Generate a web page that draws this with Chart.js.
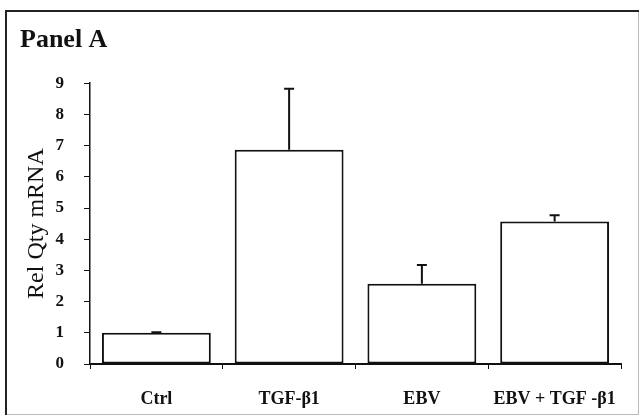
<!DOCTYPE html>
<html lang="en">
<head>
<meta charset="utf-8">
<title>Panel A</title>
<script src="https://cdn.jsdelivr.net/npm/chart.js"></script>
<style>
  body{margin:0;padding:0;background:#fff}
  #wrap{width:641px;height:419px}
</style>
</head>
<body>
<div id="wrap"><canvas id="chart" width="641" height="419"></canvas></div>

<script>
const categories = ['Ctrl', 'TGF-β1', 'EBV', 'EBV + TGF -β1'];
const relQty = [1.0, 6.87, 2.57, 4.57];
const errTop = [1.02, 8.82, 3.17, 4.77];
const yTicks = [0, 1, 2, 3, 4, 5, 6, 7, 8, 9];

const serif = "'Liberation Serif', 'Times New Roman', serif";

// upper whiskers only
const errorBars = {
  id: 'errorBars',
  afterDatasetsDraw(chart) {
    const ctx = chart.ctx;
    const meta = chart.getDatasetMeta(0);
    const y = chart.scales.y;
    ctx.save();
    ctx.strokeStyle = '#111';
    ctx.lineWidth = 2;
    meta.data.forEach((bar, i) => {
      const top = y.getPixelForValue(errTop[i]);
      ctx.beginPath();
      ctx.moveTo(bar.x, bar.y);
      ctx.lineTo(bar.x, top);
      ctx.moveTo(bar.x - 5, top);
      ctx.lineTo(bar.x + 5, top);
      ctx.stroke();
    });
    ctx.restore();
  }
};

const frame = {
  id: 'frame',
  beforeDraw(chart) {
    const ctx = chart.ctx;
    ctx.save();
    ctx.fillStyle = '#fff';
    ctx.fillRect(0, 0, chart.width, chart.height);
    ctx.strokeStyle = '#bbb';
    ctx.lineWidth = 1;
    ctx.strokeRect(6.5, 11.5, 632, 403);
    ctx.strokeStyle = '#222';
    ctx.lineWidth = 2;
    ctx.beginPath();
    ctx.moveTo(6, 415);
    ctx.lineTo(6, 11);
    ctx.lineTo(639, 11);
    ctx.stroke();
    ctx.restore();
  }
};

new Chart(document.getElementById('chart'), {
  type: 'bar',
  data: {
    labels: categories,
    datasets: [{
      data: relQty,
      backgroundColor: '#fff',
      borderColor: '#111',
      borderWidth: 2,
      borderSkipped: false,
      barPercentage: 0.82,
      categoryPercentage: 1
    }]
  },
  options: {
    responsive: false,
    animation: false,
    layout: { padding: { left: 20, right: 20, top: 0, bottom: 0 } },
    plugins: {
      legend: { display: false },
      tooltip: { enabled: false },
      title: {
        display: true,
        text: 'Panel A',
        align: 'start',
        color: '#111',
        font: { family: serif, size: 26, weight: 'bold' },
        padding: { top: 25, bottom: 27 }
      }
    },
    scales: {
      x: {
        afterFit(s) { s.height = 55; },
        ticks: { color: '#111', padding: 20, font: { family: serif, size: 18, weight: 'bold' } },
        grid: { drawOnChartArea: false, drawTicks: true, tickLength: 5, color: '#111', offset: true },
        border: { display: true, color: '#111', width: 2 }
      },
      y: {
        min: 0,
        max: 9,
        afterFit(s) { s.width = 70; },
        afterBuildTicks(s) { s.ticks = yTicks.map(v => ({ value: v })); },
        title: {
          display: true,
          text: 'Rel Qty mRNA',
          color: '#111',
          padding: { top: 2, bottom: 2 },
          font: { family: serif, size: 24, weight: 'normal' }
        },
        ticks: { color: '#111', padding: 20, font: { family: serif, size: 17, weight: 'bold' } },
        grid: { drawOnChartArea: false, drawTicks: true, tickLength: 6, color: '#111' },
        border: { display: true, color: '#111', width: 1.5 }
      }
    }
  },
  plugins: [frame, errorBars]
});
</script>
</body>
</html>
